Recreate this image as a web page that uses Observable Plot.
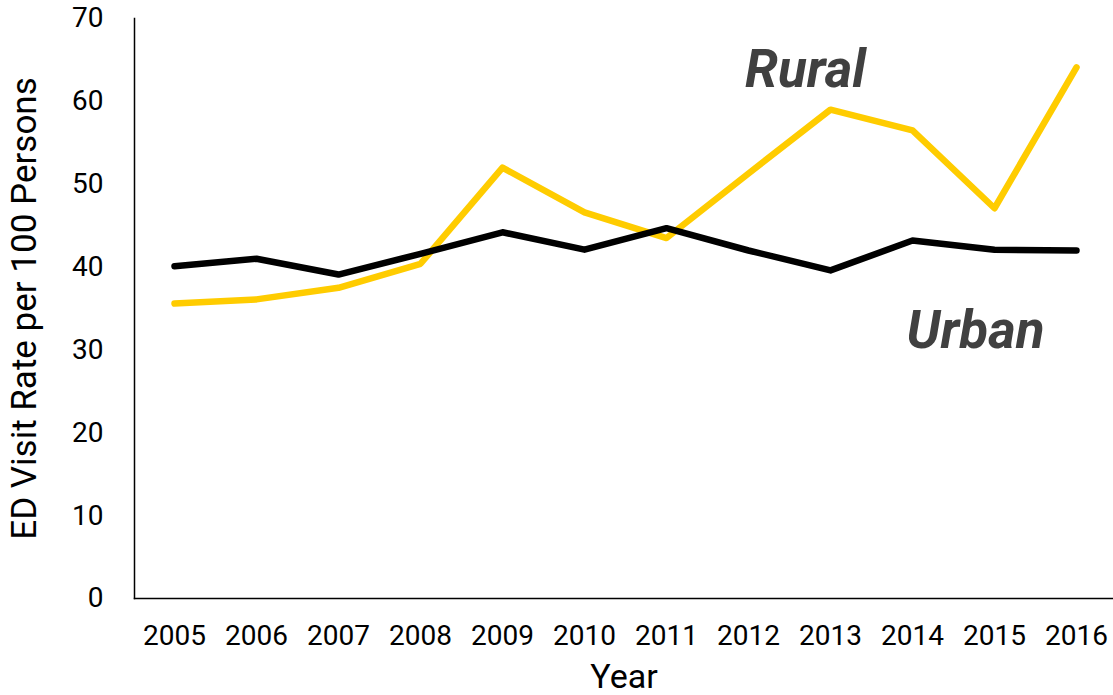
<!DOCTYPE html>
<html>
<head>
<meta charset="utf-8">
<script src="https://cdn.jsdelivr.net/npm/d3@7"></script>
<script src="https://cdn.jsdelivr.net/npm/@observablehq/plot@0.6"></script>
<style>
  html, body { margin: 0; padding: 0; background: #fff; }
  #chart { width: 1113px; height: 695px; }
  svg { font-family: Roboto, "Noto Sans", sans-serif; }
</style>
</head>
<body>
<div id="chart"></div>
<script>
const years = ["2005","2006","2007","2008","2009","2010","2011","2012","2013","2014","2015","2016"];
const rural = [35.6, 36.1, 37.5, 40.4, 52.0, 46.6, 43.5, 51.3, 59.0, 56.5, 47.1, 64.1];
const urban = [40.1, 41.0, 39.1, 41.6, 44.2, 42.1, 44.7, 42.0, 39.6, 43.2, 42.1, 42.0];
const yTicks = [0, 10, 20, 30, 40, 50, 60, 70];
const seriesLabels = [
  {text: "Rural", year: "2013", value: 63.8, color: "#FFCC00"},
  {text: "Urban", year: "2015", value: 32.3, color: "#000000"}
];
const labelShift = [-25, -19];

const ruralData = years.map((y, i) => ({year: y, value: rural[i]}));
const urbanData = years.map((y, i) => ({year: y, value: urban[i]}));

const chart = Plot.plot({
  width: 1113,
  height: 695,
  marginLeft: 134,
  marginRight: 0,
  marginTop: 18,
  marginBottom: 97,
  style: {fontFamily: "Roboto, sans-serif", background: "#fff"},
  x: {type: "point", domain: years, padding: 0.45, insetLeft: 3},
  y: {domain: [0, 70]},
  marks: [
    Plot.frame({anchor: "left", stroke: "#000", strokeWidth: 1.5}),
    Plot.frame({anchor: "bottom", stroke: "#000", strokeWidth: 1.5}),
    Plot.axisY(yTicks, {tickSize: 0, tickPadding: 31, fontSize: 28, fill: "#000", label: null}),
    Plot.axisX({tickSize: 0, tickPadding: 27, fontSize: 28, fill: "#000", label: null}),
    Plot.text(["ED Visit Rate per 100 Persons"], {frameAnchor: "left", textAnchor: "middle", lineAnchor: "middle", dx: -110, rotate: -90, fontSize: 35, fill: "#000"}),
    Plot.text(["Year"], {frameAnchor: "bottom", lineAnchor: "middle", dy: 79, fontSize: 34, fill: "#000"}),
    Plot.line(ruralData, {x: "year", y: "value", stroke: "#FFCC00", strokeWidth: 6.5, strokeLinecap: "round", strokeLinejoin: "round"}),
    Plot.line(urbanData, {x: "year", y: "value", stroke: "#000", strokeWidth: 6.5, strokeLinecap: "round", strokeLinejoin: "round"}),
    Plot.text([seriesLabels[0]], {x: "year", y: "value", text: "text", dx: labelShift[0], fontSize: 53, fontWeight: "bold", fontStyle: "italic", fill: "#404040"}),
    Plot.text([seriesLabels[1]], {x: "year", y: "value", text: "text", dx: labelShift[1], fontSize: 53, fontWeight: "bold", fontStyle: "italic", fill: "#404040"})
  ]
});
document.getElementById("chart").appendChild(chart);
</script>
</body>
</html>
